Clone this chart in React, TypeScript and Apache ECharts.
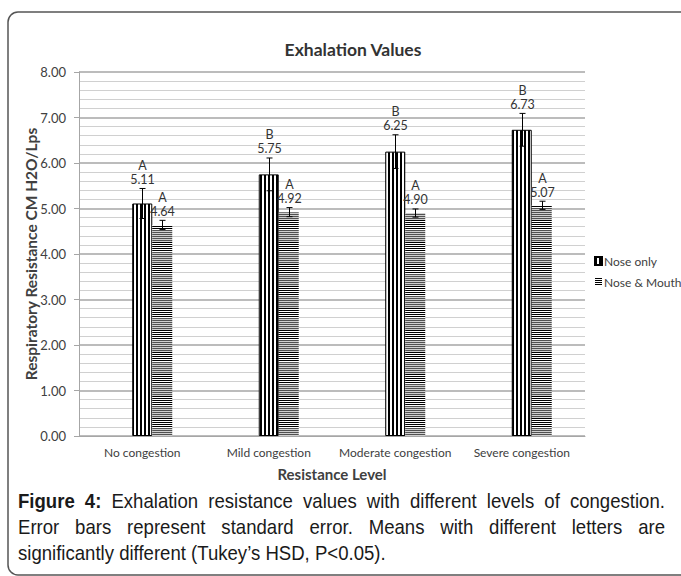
import React, { useEffect, useRef } from 'react';
import * as echarts from 'echarts';

const categories = ['No congestion', 'Mild congestion', 'Moderate congestion', 'Severe congestion'];
const seriesNames = ['Nose only', 'Nose & Mouth'];
const noseOnly = [5.11, 5.75, 6.25, 6.73];
const noseOnlySE = [0.33, 0.36, 0.37, 0.36];
const noseOnlyLetters = ['A', 'B', 'B', 'B'];
const noseMouth = [4.64, 4.92, 4.9, 5.07];
const noseMouthSE = [0.1, 0.1, 0.09, 0.09];
const noseMouthLetters = ['A', 'A', 'A', 'A'];
const spacer = [null, null, null, null];

const titleText = 'Exhalation Values';
const yName = 'Respiratory Resistance CM H2O/Lps';
const xName = 'Resistance Level';
const captionLine1Bold = 'Figure 4:';
const captionLine1 = 'Exhalation resistance values with different levels of congestion.';
const captionLine2 = 'Error bars represent standard error. Means with different letters are';
const captionLine3 = 'significantly different (Tukey\u2019s HSD, P<0.05).';

const FONT = 'Lato';
const CAP_FONT = 'Liberation Sans';
const CAP_SIZE = 20.5;

function makePattern(w: number, h: number, fill: (x: number, y: number) => string | null) {
  const c = document.createElement('canvas');
  c.width = w;
  c.height = h;
  const ctx = c.getContext('2d')!;
  ctx.fillStyle = '#ffffff';
  ctx.fillRect(0, 0, w, h);
  for (let y = 0; y < h; y++) {
    for (let x = 0; x < w; x++) {
      const col = fill(x, y);
      if (col) {
        ctx.fillStyle = col;
        ctx.fillRect(x, y, 1, 1);
      }
    }
  }
  return { image: c.toDataURL(), repeat: 'repeat', imageWidth: w, imageHeight: h } as any;
}

function measure(text: string, bold: boolean) {
  const ctx = document.createElement('canvas').getContext('2d')!;
  ctx.font = `${bold ? 'bold ' : ''}${CAP_SIZE}px "${CAP_FONT}"`;
  return ctx.measureText(text).width;
}

export default function App() {
  const ref = useRef<HTMLDivElement>(null);
  useEffect(() => {
    if (!ref.current) return;
    const chart = echarts.init(ref.current, null, { renderer: 'svg' });

    const vertPattern = makePattern(4, 1, (x) => (x < 2 ? '#000000' : null));
    const horizPattern = makePattern(1, 22, (_x, y) =>
      y % 2 === 0 ? (y < 10 ? '#000000' : '#505050') : y < 10 ? null : '#cfcfcf'
    );

    // caption layout
    const capLeft = 18;
    const capRight = 665;
    const scaleX = 368 / measure(captionLine3, false);
    const capStyle = (bold: boolean) => ({
      fontFamily: CAP_FONT,
      fontSize: CAP_SIZE,
      fontWeight: bold ? 'bold' : 'normal',
      fill: '#1a1a1a',
      verticalAlign: 'middle',
      align: 'left',
    });
    const justify = (words: { t: string; b: boolean }[], y: number) => {
      const widths = words.map((w) => measure(w.t, w.b) * scaleX);
      const total = widths.reduce((a, b) => a + b, 0);
      const gap = (capRight - capLeft - total) / (words.length - 1);
      let x = capLeft;
      return words.map((w, i) => {
        const el = {
          type: 'text',
          x,
          y,
          scaleX,
          style: { text: w.t, ...capStyle(w.b) },
        };
        x += widths[i] + gap;
        return el;
      });
    };
    const line1Words = [
      ...captionLine1Bold.split(' ').map((t) => ({ t, b: true })),
      ...captionLine1.split(' ').map((t) => ({ t, b: false })),
    ];
    const line2Words = captionLine2.split(' ').map((t) => ({ t, b: false }));

    const errData = (vals: number[], se: number[]) => vals.map((v, i) => [i, v, se[i]]);
    const errSeries = (name: string, vals: number[], se: number[], letters: string[], offset: number) => ({
      type: 'custom',
      name: name + ' err',
      z: 10,
      silent: true,
      clip: false,
      data: errData(vals, se),
      renderItem: (params: any, api: any) => {
        const ci = api.value(0);
        const v = api.value(1);
        const s = api.value(2);
        const top = api.coord([ci, v + s]);
        const bot = api.coord([ci, v - s]);
        const x = Math.round(top[0] + offset) + 0.5;
        const cap = 3;
        const ls = { stroke: '#000', lineWidth: 1 };
        return {
          type: 'group',
          children: [
            { type: 'line', shape: { x1: x, y1: top[1], x2: x, y2: bot[1] }, style: ls },
            { type: 'line', shape: { x1: x - cap, y1: top[1], x2: x + cap, y2: top[1] }, style: ls },
            { type: 'line', shape: { x1: x - cap, y1: bot[1], x2: x + cap, y2: bot[1] }, style: ls },
            {
              type: 'text',
              x,
              y: top[1] - 2,
              style: {
                text: letters[params.dataIndex] + '\n' + vals[params.dataIndex].toFixed(2),
                fontFamily: FONT,
                fontSize: 12.5,
                lineHeight: 14,
                fill: '#333',
                align: 'center',
                verticalAlign: 'bottom',
              },
            },
          ],
        };
      },
    });

    chart.setOption({
      animation: false,
      backgroundColor: '#ffffff',
      title: {
        text: titleText,
        left: 348,
        top: 35,
        textAlign: 'center',
        textStyle: { fontFamily: FONT, fontWeight: 'bold', fontSize: 17.5, color: '#333' },
      },
      legend: {
        data: seriesNames,
        orient: 'vertical',
        left: 594,
        top: 255,
        itemWidth: 7,
        itemHeight: 8,
        itemGap: 9,
        padding: 0,
        icon: 'rect',
        textStyle: { fontFamily: FONT, fontSize: 12, color: '#404040', padding: [0, 0, 0, -3] },
      },
      grid: { left: 79, right: 96, top: 72, bottom: 140, containLabel: false },
      xAxis: {
        type: 'category',
        data: categories,
        name: xName,
        nameLocation: 'middle',
        nameGap: 30,
        nameMoveOverlap: false,
        nameTextStyle: { fontFamily: FONT, fontWeight: 'bold', fontSize: 15, color: '#404040' },
        axisLine: { lineStyle: { color: '#a6a6a6', width: 1 } },
        axisTick: { show: false },
        axisLabel: { fontFamily: FONT, fontSize: 12, color: '#404040', margin: 10, interval: 0 },
      },
      yAxis: {
        type: 'value',
        min: 0,
        max: 8,
        interval: 1,
        name: yName,
        nameLocation: 'middle',
        nameGap: 40,
        nameMoveOverlap: false,
        nameTextStyle: { fontFamily: FONT, fontWeight: 'bold', fontSize: 15.5, color: '#404040' },
        axisLine: { show: true, lineStyle: { color: '#a6a6a6', width: 1 } },
        axisTick: { show: true, length: 5, lineStyle: { color: '#a6a6a6' } },
        axisLabel: {
          fontFamily: FONT,
          fontSize: 13,
          color: '#404040',
          margin: 13,
          formatter: (v: number) => v.toFixed(2),
        },
        splitLine: { show: true, lineStyle: { color: '#a6a6a6', width: 1.5 } },
        minorTick: { show: false, splitNumber: 5 },
        minorSplitLine: { show: true, lineStyle: { color: '#d0d0d0', width: 1 } },
      },
      series: [
        {
          type: 'bar',
          name: 'spacer',
          data: spacer,
          barWidth: 20,
          barGap: '0%',
          silent: true,
        },
        {
          type: 'bar',
          name: seriesNames[0],
          data: noseOnly,
          barWidth: 20,
          barGap: '0%',
          itemStyle: { color: vertPattern, borderColor: '#000', borderWidth: 1 },
        },
        {
          type: 'bar',
          name: seriesNames[1],
          data: noseMouth,
          barWidth: 20,
          barGap: '0%',
          itemStyle: { color: horizPattern },
        },
        errSeries(seriesNames[0], noseOnly, noseOnlySE, noseOnlyLetters, 0),
        errSeries(seriesNames[1], noseMouth, noseMouthSE, noseMouthLetters, 20),
      ],
      graphic: [
        {
          type: 'rect',
          shape: { x: 8, y: 12, width: 700, height: 563, r: 10 },
          style: { fill: 'none', stroke: '#555', lineWidth: 1.5 },
          silent: true,
          z: 100,
        },
        ...justify(line1Words, 501),
        ...justify(line2Words, 527),
        {
          type: 'text',
          x: capLeft,
          y: 553,
          scaleX,
          style: { text: captionLine3, ...capStyle(false) },
        },
      ],
    });
    return () => chart.dispose();
  }, []);
  return (
    <div
      ref={ref}
      style={{ position: 'fixed', left: 0, top: 0, width: 681, height: 576, background: '#fff' }}
    />
  );
}
